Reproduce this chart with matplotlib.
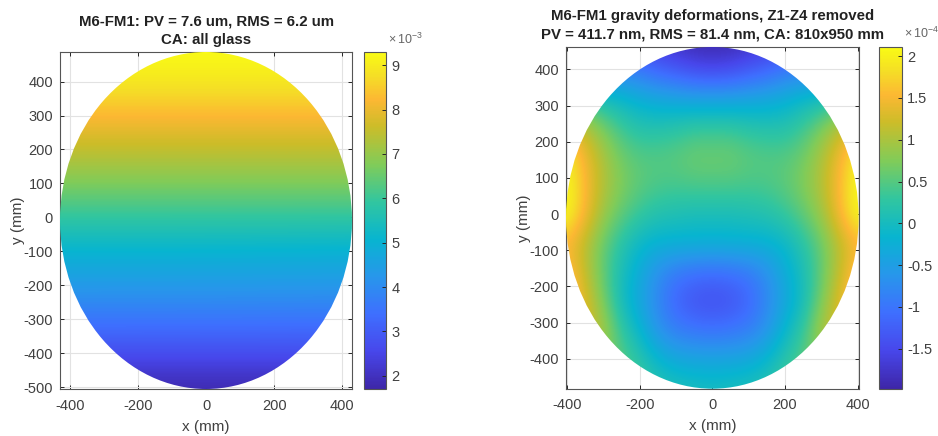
import matplotlib
matplotlib.use("Agg")
import matplotlib.pyplot as plt
from matplotlib.colors import LinearSegmentedColormap
from matplotlib.patches import Ellipse
import numpy as np

plt.rcParams['font.family'] = ['Liberation Sans', 'DejaVu Sans']
plt.rcParams['mathtext.default'] = 'regular'
plt.rcParams['axes.unicode_minus'] = False

W, H = 938, 436

# parula, with more anchors in the orange part
parula_stops = [0.0, 0.111, 0.222, 0.333, 0.444, 0.556, 0.667, 0.78, 0.86, 0.93, 1.0]
parula_colors = [(0.2422, 0.1504, 0.6603), (0.2803, 0.2782, 0.9221), (0.2440, 0.4358, 0.9988),
                 (0.1540, 0.5902, 0.9218), (0.0297, 0.7082, 0.8163), (0.1938, 0.7758, 0.6251),
                 (0.5044, 0.7993, 0.3480), (0.80, 0.74, 0.16), (0.99, 0.72, 0.20),
                 (0.96, 0.87, 0.15), (0.9769, 0.9839, 0.0805)]
parula = LinearSegmentedColormap.from_list('parula', list(zip(parula_stops, parula_colors)), N=256)

left_x = [-450, 0, 450]
left_y = [500, 400, 300, 200, 100, 0, -100, -200, -300, -400, -500]
left_z = [[9.35, 9.35, 9.35],
          [8.95, 8.95, 8.95],
          [8.25, 8.25, 8.25],
          [7.50, 7.50, 7.50],
          [6.75, 6.75, 6.75],
          [5.90, 5.90, 5.90],
          [5.05, 5.05, 4.95],
          [4.35, 4.35, 4.30],
          [3.55, 3.55, 3.50],
          [2.70, 2.70, 2.70],
          [1.75, 1.75, 1.75]]

right_x = [-400, -350, -300, -250, -200, -150, -100, -50, 0, 50, 100, 150, 200, 250, 300, 350, 400]
right_y = [480, 400, 320, 240, 160, 80, 0, -80, -160, -240, -320, -400, -480]
right_z = [[-1.5, -1.5, -1.5, -1.5, -1.6, -1.75, -1.85, -1.95, -1.98, -1.95, -1.85, -1.75, -1.6, -1.5, -1.5, -1.5, -1.5],
           [-0.9, -0.9, -0.9, -0.9, -1.0, -1.2, -1.35, -1.5, -1.55, -1.5, -1.35, -1.2, -1.0, -0.9, -0.9, -0.9, -0.9],
           [0.3, 0.2, 0.0, -0.1, -0.25, -0.35, -0.4, -0.45, -0.45, -0.45, -0.4, -0.35, -0.25, -0.1, 0.0, 0.2, 0.3],
           [1.4, 1.1, 0.7, 0.35, 0.15, 0.15, 0.2, 0.3, 0.3, 0.3, 0.2, 0.15, 0.15, 0.35, 0.7, 1.1, 1.4],
           [2.0, 1.45, 1.0, 0.65, 0.5, 0.5, 0.55, 0.65, 0.65, 0.65, 0.55, 0.5, 0.5, 0.65, 1.0, 1.45, 2.0],
           [2.1, 1.55, 1.05, 0.75, 0.55, 0.45, 0.42, 0.45, 0.45, 0.45, 0.42, 0.45, 0.55, 0.75, 1.05, 1.55, 2.1],
           [2.1, 1.5, 0.9, 0.55, 0.3, 0.15, 0.1, 0.05, 0.05, 0.05, 0.1, 0.15, 0.3, 0.55, 0.9, 1.5, 2.1],
           [1.5, 1.1, 0.6, 0.2, -0.1, -0.2, -0.2, -0.2, -0.2, -0.2, -0.2, -0.2, -0.1, 0.2, 0.6, 1.1, 1.5],
           [1.7, 1.15, 0.55, 0.05, -0.3, -0.7, -0.95, -1.05, -1.1, -1.05, -0.95, -0.7, -0.3, 0.05, 0.55, 1.15, 1.7],
           [1.8, 1.35, 0.7, 0.0, -0.4, -0.8, -1.2, -1.4, -1.45, -1.4, -1.2, -0.8, -0.4, 0.0, 0.7, 1.35, 1.8],
           [1.6, 1.3, 1.0, 0.3, -0.15, -0.65, -0.9, -1.0, -1.05, -1.0, -0.9, -0.65, -0.15, 0.3, 1.0, 1.3, 1.6],
           [1.4, 1.1, 0.8, 0.5, 0.2, -0.15, -0.35, -0.4, -0.4, -0.4, -0.35, -0.15, 0.2, 0.5, 0.8, 1.1, 1.4],
           [0.9, 0.9, 0.8, 0.6, 0.4, 0.2, 0.1, 0.05, 0.0, 0.05, 0.1, 0.2, 0.4, 0.6, 0.8, 0.9, 0.9]]

left_title = "M6-FM1: PV = 7.6 um, RMS = 6.2 um\nCA: all glass"
right_title = "M6-FM1 gravity deformations, Z1-Z4 removed\nPV = 411.7 nm, RMS = 81.4 nm, CA: 810x950 mm"
left_xticks = [-400, -200, 0, 200, 400]
left_yticks = [-500, -400, -300, -200, -100, 0, 100, 200, 300, 400]
right_xticks = [-400, -200, 0, 200, 400]
right_yticks = [-400, -300, -200, -100, 0, 100, 200, 300, 400]
left_cticks = [2, 3, 4, 5, 6, 7, 8, 9]
right_cticks = [-1.5, -1, -0.5, 0, 0.5, 1, 1.5, 2]
right_clabels = ['-1.5', '-1', '-0.5', '0', '0.5', '1', '1.5', '2']

GREY = '#404040'


def box(x0, y0, x1, y1):
    return [x0 / W, 1 - y1 / H, (x1 - x0) / W, (y1 - y0) / H]


def draw_map(pos, cpos, xs, ys, zs, xlim, ylim, ell, clim, xticks, yticks, cticks, clabels, title, expo, title_y, expo_y):
    ax = fig.add_axes(box(*pos))
    # half a cell each way, so the cell centres sit on xs and ys
    dx = (xs[1] - xs[0]) / 2
    dy = (ys[0] - ys[1]) / 2
    im = ax.imshow(np.array(zs), extent=[xs[0] - dx, xs[-1] + dx, ys[-1] - dy, ys[0] + dy], cmap=parula,
                   vmin=clim[0], vmax=clim[1], aspect='auto', interpolation='bicubic', zorder=3)
    patch = Ellipse(ell[:2], 2 * ell[2], 2 * ell[3], transform=ax.transData)
    im.set_clip_path(patch)
    ax.set_xlim(xlim)
    ax.set_ylim(ylim)
    ax.set_xticks(xticks)
    ax.set_yticks(yticks)
    ax.grid(True, color='#e2e2e2', lw=0.8, zorder=0)
    ax.tick_params(axis='x', direction='in', top=True, length=3, width=0.7, color='#262626',
                   labelcolor=GREY, labelsize=10.5, pad=7)
    ax.tick_params(axis='y', direction='in', right=True, length=3, width=0.7, color='#262626',
                   labelcolor=GREY, labelsize=10.5, pad=5)
    ax.set_xlabel('x (mm)', fontsize=11, color=GREY, labelpad=5)
    ax.set_ylabel('y (mm)', fontsize=11, color=GREY, labelpad=-1)
    for s in ax.spines.values():
        s.set_color('#555555')
        s.set_linewidth(0.8)
    fig.text((pos[0] + pos[2]) / 2 / W, 1 - title_y / H, title, fontsize=10.8, fontweight='bold', color='#222222',
             ha='center', va='bottom', linespacing=1.45)

    cax = fig.add_axes(box(*cpos))
    cb = fig.colorbar(im, cax=cax)
    cb.set_ticks(cticks)
    cb.set_ticklabels(clabels)
    cax.tick_params(direction='in', length=3, width=0.7, color='#262626', labelcolor=GREY, labelsize=10.5, pad=4)
    cb.outline.set_edgecolor('#555555')
    cb.outline.set_linewidth(0.8)
    fig.text((cpos[2] + 2) / W, 1 - expo_y / H, r'$\times\,10^{%d}$' % expo, fontsize=9, color='#666666',
             ha='left', va='bottom')


fig = plt.figure(figsize=(W / 100, H / 100), dpi=100)

draw_map((60, 52, 352, 389), (364, 52, 386, 389), left_x, left_y, left_z, (-429, 429), (-505, 487),
         (0, -9, 429, 496), (1.7, 9.3), left_xticks, left_yticks, left_cticks, [str(c) for c in left_cticks],
         left_title, -3, 47, 47)
draw_map((566, 47, 859, 388.7), (879, 47, 901.5, 388.7), right_x, right_y, right_z, (-403, 404), (-483, 462),
         (0, -10.5, 403, 472.5), (-1.98, 2.11), right_xticks, right_yticks, right_cticks, right_clabels,
         right_title, -4, 41.5, 41)

fig.savefig('out.png', dpi=100)
